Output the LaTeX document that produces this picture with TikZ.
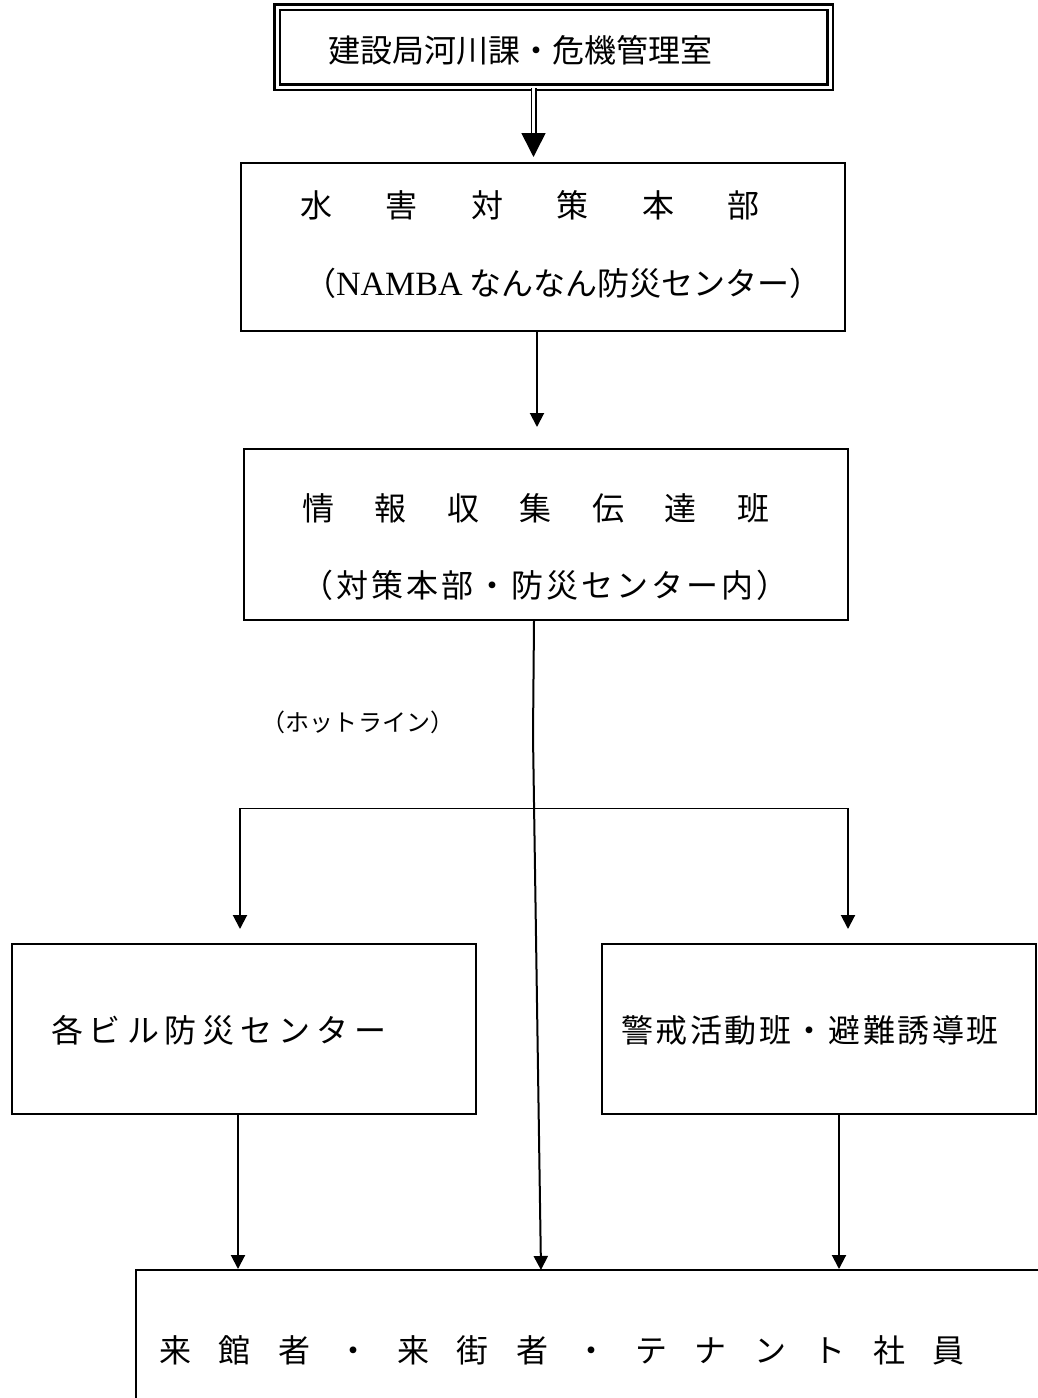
\documentclass[tikz,border=0pt]{standalone}
\usepackage{fontspec}
\setmainfont{Liberation Serif}
\newfontfamily\jpfont{Noto Sans CJK JP}
\usetikzlibrary{arrows.meta}
\newcommand\spread[2]{\foreach \ch in {#2}{\makebox[#1]{\ch}}}

\begin{document}
\begin{tikzpicture}[x=0.5pt,y=-0.5pt,
  box/.style n args={2}{draw, line width=1pt, minimum width=#1, minimum height=#2, inner sep=0pt},
  txt/.style={font=\jpfont\fontsize{16}{20}\selectfont, inner sep=0pt},
  small/.style={font=\jpfont\fontsize{12}{14}\selectfont, inner sep=0pt},
  arr/.style={line width=1pt, -{Triangle[length=7pt,width=7pt]}},
  dbl/.style={double, double distance=1.4pt, line width=0.8pt, -{Triangle[length=12pt,width=12pt]}}]
  \useasboundingbox (0,0) rectangle (1038,1398);
  \clip (0,0) rectangle (1038,1398);

  % Draw the boxes
  \node[box={276.5pt}{40pt}, double, double distance=1.5pt, line width=1.1pt] (hq) at (553.5,47) {};
  \node[box={302pt}{84pt}] (plan) at (543,247) {};
  \node[box={302pt}{85.5pt}] (info) at (546,534.5) {};
  \node[box={232pt}{85pt}] (bldg) at (244,1029) {};
  \node[box={217pt}{85pt}] (guard) at (819,1029) {};
  \node[box={482pt}{90pt}] (visit) at (618,1360) {};

  % Label the boxes
  \node[txt] (hqtext) at (520,50) {建設局河川課・危機管理室};
  \node[txt] (plantop) at (530,205) {\spread{42.8pt}{水,害,対,策,本,部}};
  \node[txt] (planbot) at (563,283) {（{\rmfamily\fontsize{17}{20}\selectfont NAMBA} なんなん防災センター）};
  \node[txt] (infotop) at (536,508) {\spread{36.25pt}{情,報,収,集,伝,達,班}};
  \node[txt] (infobot) at (545,585) {\spread{17.5pt}{（,対,策,本,部,・,防,災,セ,ン,タ,ー,内,）}};
  \node[small] (hotline) at (358,722) {\spread{12.1pt}{（,ホ,ッ,ト,ラ,イ,ン,）}};
  \node[txt] (bldgtext) at (219,1030) {\spread{19pt}{各,ビ,ル,防,災,セ,ン,タ,ー}};
  \node[txt] (guardtext) at (810,1030) {\spread{17.3pt}{警,戒,活,動,班,・,避,難,誘,導,班}};
  \node[txt] (visittext) at (562,1350) {\spread{29.75pt}{来,館,者,・,来,街,者,・,テ,ナ,ン,ト,社,員}};

  % Branch points
  \coordinate (bend) at (533,736);
  \coordinate (hotend) at (541,1270);
  \coordinate (brl) at (240,808);
  \coordinate (brr) at (848,808);

  % Draw the connectors
  \draw[dbl, shorten >=2.5pt] ([xshift=-10pt]hq.south) -- ([xshift=-10pt]hq.south |- plan.north);
  \draw[arr, shorten >=10.5pt] ([xshift=-3pt]plan.south) -- ([xshift=-3pt]plan.south |- info.north);
  \draw[arr] ([xshift=-6pt]info.south) -- (bend) -- (hotend);
  \draw (brl) -- (brr);
  \draw[arr, shorten >=7pt] (brl) -- (brl |- bldg.north);
  \draw[arr, shorten >=7pt] (brr) -- (brr |- guard.north);
  \draw[arr] ([xshift=-3pt]bldg.south) -- ([xshift=-3pt]bldg.south |- visit.north);
  \draw[arr] ([xshift=10pt]guard.south) -- ([xshift=10pt]guard.south |- visit.north);
\end{tikzpicture}
\end{document}
